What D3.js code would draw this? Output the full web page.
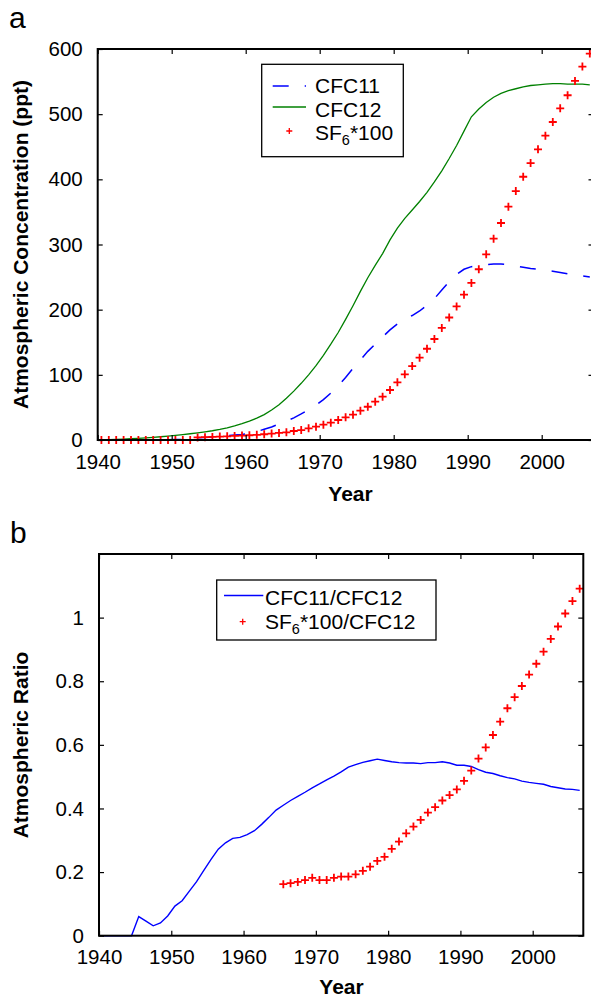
<!DOCTYPE html>
<html lang="en">
<head>
<meta charset="utf-8">
<title>CFC11, CFC12 and SF6</title>
<script src="https://d3js.org/d3.v7.min.js"></script>
<style>
  body { margin: 0; background: #fff; }
  text { font-family: "Liberation Sans", Arial, sans-serif; }
</style>
</head>
<body>
<div id="chart"></div>
<script>
// samples sit at mid-year
var years = d3.range(1940.5, 2007, 1);

// panel a, ppt
var cfc11 = [0, 0, 0, 0, 0, 0.1, 0.1, 0.1, 0.2, 0.3,
  0.6, 0.8, 1.2, 3.5, 4, 4.7, 5.5, 6.5, 7.5, 8.5,
  10, 13, 16.5, 20, 24.5, 29, 34, 40, 46.5, 53.5,
  62, 72, 83, 96, 110, 123, 136, 147, 158, 169,
  178, 185, 191, 198, 207, 217, 230, 243, 254, 262,
  266, 268, 269, 270, 270, 269, 267, 265, 263, 262,
  261, 259, 257, 255, 253, 252, 250];
var cfc12 = [0.3, 0.6, 1, 1.4, 2, 2.6, 3.3, 4.1, 5, 6,
  7.2, 8.4, 9.6, 11, 12.5, 14.2, 16.2, 18.5, 21.5, 25,
  29, 33.5, 39, 46, 54, 64, 75, 87, 100, 114,
  130, 147, 165, 185, 206, 228, 249, 268, 286, 307,
  325, 340, 353, 366, 380, 396, 413, 432, 452, 474,
  496, 508, 518, 526, 532, 536, 539, 542, 544, 545,
  546, 547, 547, 546, 546, 546, 545];
var sf6x100 = [0, 0, 0, 0, 0, 0, 0, 0, 0, 0,
  0, 0, 0, 4, 4.3, 4.7, 5.2, 5.7, 6.2, 6.8,
  7.3, 8, 8.8, 9.8, 10.8, 11.8, 13.8, 15.3, 17.9, 20.5,
  23.5, 26.6, 30.7, 34.8, 38.9, 45, 51, 58.8, 66.5, 76.7,
  88.5, 100.8, 113.5, 126.3, 140, 155, 172, 188, 205, 223,
  241, 262, 285, 309, 333, 358, 382, 404, 425, 446,
  467, 488, 509, 529, 551, 573, 593];

// panel b, ratios
var ratio11 = [0, 0, 0, 0, 0, 0.06, 0.046, 0.031, 0.04, 0.062,
  0.093, 0.11, 0.14, 0.17, 0.205, 0.24, 0.272, 0.292, 0.306, 0.309,
  0.318, 0.33, 0.35, 0.372, 0.395, 0.41, 0.425, 0.438, 0.451, 0.465,
  0.477, 0.49, 0.502, 0.515, 0.53, 0.538, 0.545, 0.55, 0.555, 0.551,
  0.547, 0.544, 0.543, 0.543, 0.541, 0.544, 0.544, 0.547, 0.543, 0.536,
  0.536, 0.532, 0.522, 0.514, 0.51, 0.503, 0.497, 0.493, 0.486, 0.482,
  0.479, 0.476, 0.469, 0.465, 0.461, 0.46, 0.457];
var yearsSF6 = years.slice(25);
var ratioSF6 = [0.162, 0.165, 0.169, 0.175, 0.182, 0.175, 0.175, 0.182, 0.186, 0.186,
  0.193, 0.204, 0.217, 0.235, 0.248, 0.273, 0.296, 0.322, 0.343, 0.364,
  0.387, 0.404, 0.425, 0.442, 0.46, 0.487, 0.519, 0.557, 0.592, 0.631,
  0.673, 0.715, 0.75, 0.785, 0.821, 0.855, 0.893, 0.933, 0.972, 1.013,
  1.052, 1.091];

var yearTicks = [1940, 1950, 1960, 1970, 1980, 1990, 2000];
var concTicks = [0, 100, 200, 300, 400, 500, 600];
var ratioTicks = [0, 0.2, 0.4, 0.6, 0.8, 1];

var svg = d3.select("#chart")
  .append("svg")
    .attr("width", 591)
    .attr("height", 997);

var plus = "M-4,0H4M0,-4V4";

// axes box with inward ticks on all four sides
function frame(x, y, xt, yt, fy) {
  var x0 = x.range()[0], x1 = x.range()[1], y0 = y.range()[0], y1 = y.range()[1];
  var g = svg.append("g");
  var b = g.append("g").attr("transform", "translate(0," + y0 + ")")
    .call(d3.axisBottom(x).tickValues(xt).tickSizeInner(-5).tickSizeOuter(0).tickPadding(14).tickFormat(d3.format("d")));
  var t = g.append("g").attr("transform", "translate(0," + y1 + ")")
    .call(d3.axisTop(x).tickValues(xt).tickSizeInner(-5).tickSizeOuter(0).tickFormat(""));
  var l = g.append("g").attr("transform", "translate(" + x0 + ",0)")
    .call(d3.axisLeft(y).tickValues(yt).tickSizeInner(-5).tickSizeOuter(0).tickPadding(15).tickFormat(fy));
  var r = g.append("g").attr("transform", "translate(" + x1 + ",0)")
    .call(d3.axisRight(y).tickValues(yt).tickSizeInner(-5).tickSizeOuter(0).tickFormat(""));
  [b, t, l, r].forEach(function(a) {
    a.select(".domain").remove();
    a.attr("font-size", 20.5).attr("font-family", null);
    a.selectAll("text").attr("fill", "#000");
    a.selectAll("line").attr("stroke", "#000").attr("stroke-width", 1.2);
  });
  g.append("rect")
    .attr("x", x0).attr("y", y1)
    .attr("width", x1 - x0).attr("height", y0 - y1)
    .attr("fill", "none").attr("stroke", "#000").attr("stroke-width", 2);
}

// ---------- panel a ----------
var xA = d3.scaleLinear().domain([1940, 2007]).range([97.7, 593.5]);
var yA = d3.scaleLinear().domain([0, 600]).range([440, 49]);

var lineA = function(vals) {
  return d3.line().x(function(d, i) { return xA(years[i]); }).y(function(d) { return yA(d); })(vals);
};

svg.append("path").attr("d", lineA(cfc12))
  .attr("fill", "none").attr("stroke", "#008000").attr("stroke-width", 1.3);
svg.append("path").attr("d", lineA(cfc11))
  .attr("fill", "none").attr("stroke", "#0000ff").attr("stroke-width", 1.5)
  .attr("stroke-dasharray", "16,16");
svg.append("g").selectAll("path")
  .data(sf6x100)
  .enter()
  .append("path")
    .attr("d", plus)
    .attr("transform", function(d, i) { return "translate(" + xA(years[i]) + "," + yA(d) + ")"; })
    .attr("stroke", "#ff0000").attr("stroke-width", 1.8);

frame(xA, yA, yearTicks, concTicks, d3.format("d"));

svg.append("text").attr("x", 9).attr("y", 28).attr("font-size", 30).text("a");
svg.append("text")
  .attr("transform", "translate(28,244.5) rotate(-90)")
  .attr("text-anchor", "middle").attr("font-weight", "bold").attr("font-size", 21)
  .text("Atmospheric Concentration (ppt)");
svg.append("text")
  .attr("x", 350.5).attr("y", 501)
  .attr("text-anchor", "middle").attr("font-weight", "bold").attr("font-size", 21)
  .text("Year");

// legend a
svg.append("rect").attr("x", 261.7).attr("y", 64.3).attr("width", 141.6).attr("height", 92.4)
  .attr("fill", "#fff").attr("stroke", "#000").attr("stroke-width", 1.3);
svg.append("line").attr("x1", 272.7).attr("x2", 306).attr("y1", 86).attr("y2", 86)
  .attr("stroke", "#0000ff").attr("stroke-width", 1.5).attr("stroke-dasharray", "16,16");
svg.append("line").attr("x1", 272.7).attr("x2", 306).attr("y1", 107).attr("y2", 107)
  .attr("stroke", "#008000").attr("stroke-width", 1.3);
svg.append("path").attr("d", "M-3,0H3M0,-3V3").attr("transform", "translate(289.3,131)")
  .attr("stroke", "#ff0000").attr("stroke-width", 1.3);
svg.append("text").attr("x", 315).attr("y", 92.7).attr("font-size", 21).text("CFC11");
svg.append("text").attr("x", 315).attr("y", 116.7).attr("font-size", 21).text("CFC12");
var sfA = svg.append("text").attr("x", 315).attr("y", 140).attr("font-size", 21);
sfA.append("tspan").text("SF");
sfA.append("tspan").attr("font-size", 14.5).attr("dy", 5).text("6");
sfA.append("tspan").attr("dy", -5).text("*100");

// ---------- panel b ----------
var xB = d3.scaleLinear().domain([1940, 2007]).range([99, 583.3]);
var yB = d3.scaleLinear().domain([0, 1.2]).range([935.7, 554]);

svg.append("path")
  .attr("d", d3.line().x(function(d, i) { return xB(years[i]); }).y(function(d) { return yB(d); })(ratio11))
  .attr("fill", "none").attr("stroke", "#0000ff").attr("stroke-width", 1.4);
svg.append("g").selectAll("path")
  .data(ratioSF6)
  .enter()
  .append("path")
    .attr("d", plus)
    .attr("transform", function(d, i) { return "translate(" + xB(yearsSF6[i]) + "," + yB(d) + ")"; })
    .attr("stroke", "#ff0000").attr("stroke-width", 1.8);

frame(xB, yB, yearTicks, ratioTicks, function(d) { return String(+d.toFixed(1)); });

svg.append("text").attr("x", 10).attr("y", 543).attr("font-size", 30).text("b");
svg.append("text")
  .attr("transform", "translate(28,745) rotate(-90)")
  .attr("text-anchor", "middle").attr("font-weight", "bold").attr("font-size", 21)
  .text("Atmospheric Ratio");
svg.append("text")
  .attr("x", 341.5).attr("y", 994)
  .attr("text-anchor", "middle").attr("font-weight", "bold").attr("font-size", 21)
  .text("Year");

// legend b
svg.append("rect").attr("x", 216.7).attr("y", 580).attr("width", 219.3).attr("height", 60)
  .attr("fill", "#fff").attr("stroke", "#000").attr("stroke-width", 1.3);
svg.append("line").attr("x1", 224).attr("x2", 263.3).attr("y1", 595.5).attr("y2", 595.5)
  .attr("stroke", "#0000ff").attr("stroke-width", 1.4);
svg.append("path").attr("d", "M-3,0H3M0,-3V3").attr("transform", "translate(242.7,621.7)")
  .attr("stroke", "#ff0000").attr("stroke-width", 1.3);
svg.append("text").attr("x", 265).attr("y", 605).attr("font-size", 21).text("CFC11/CFC12");
var sfB = svg.append("text").attr("x", 265).attr("y", 629).attr("font-size", 21);
sfB.append("tspan").text("SF");
sfB.append("tspan").attr("font-size", 14.5).attr("dy", 5).text("6");
sfB.append("tspan").attr("dy", -5).text("*100/CFC12");
</script>
</body>
</html>
